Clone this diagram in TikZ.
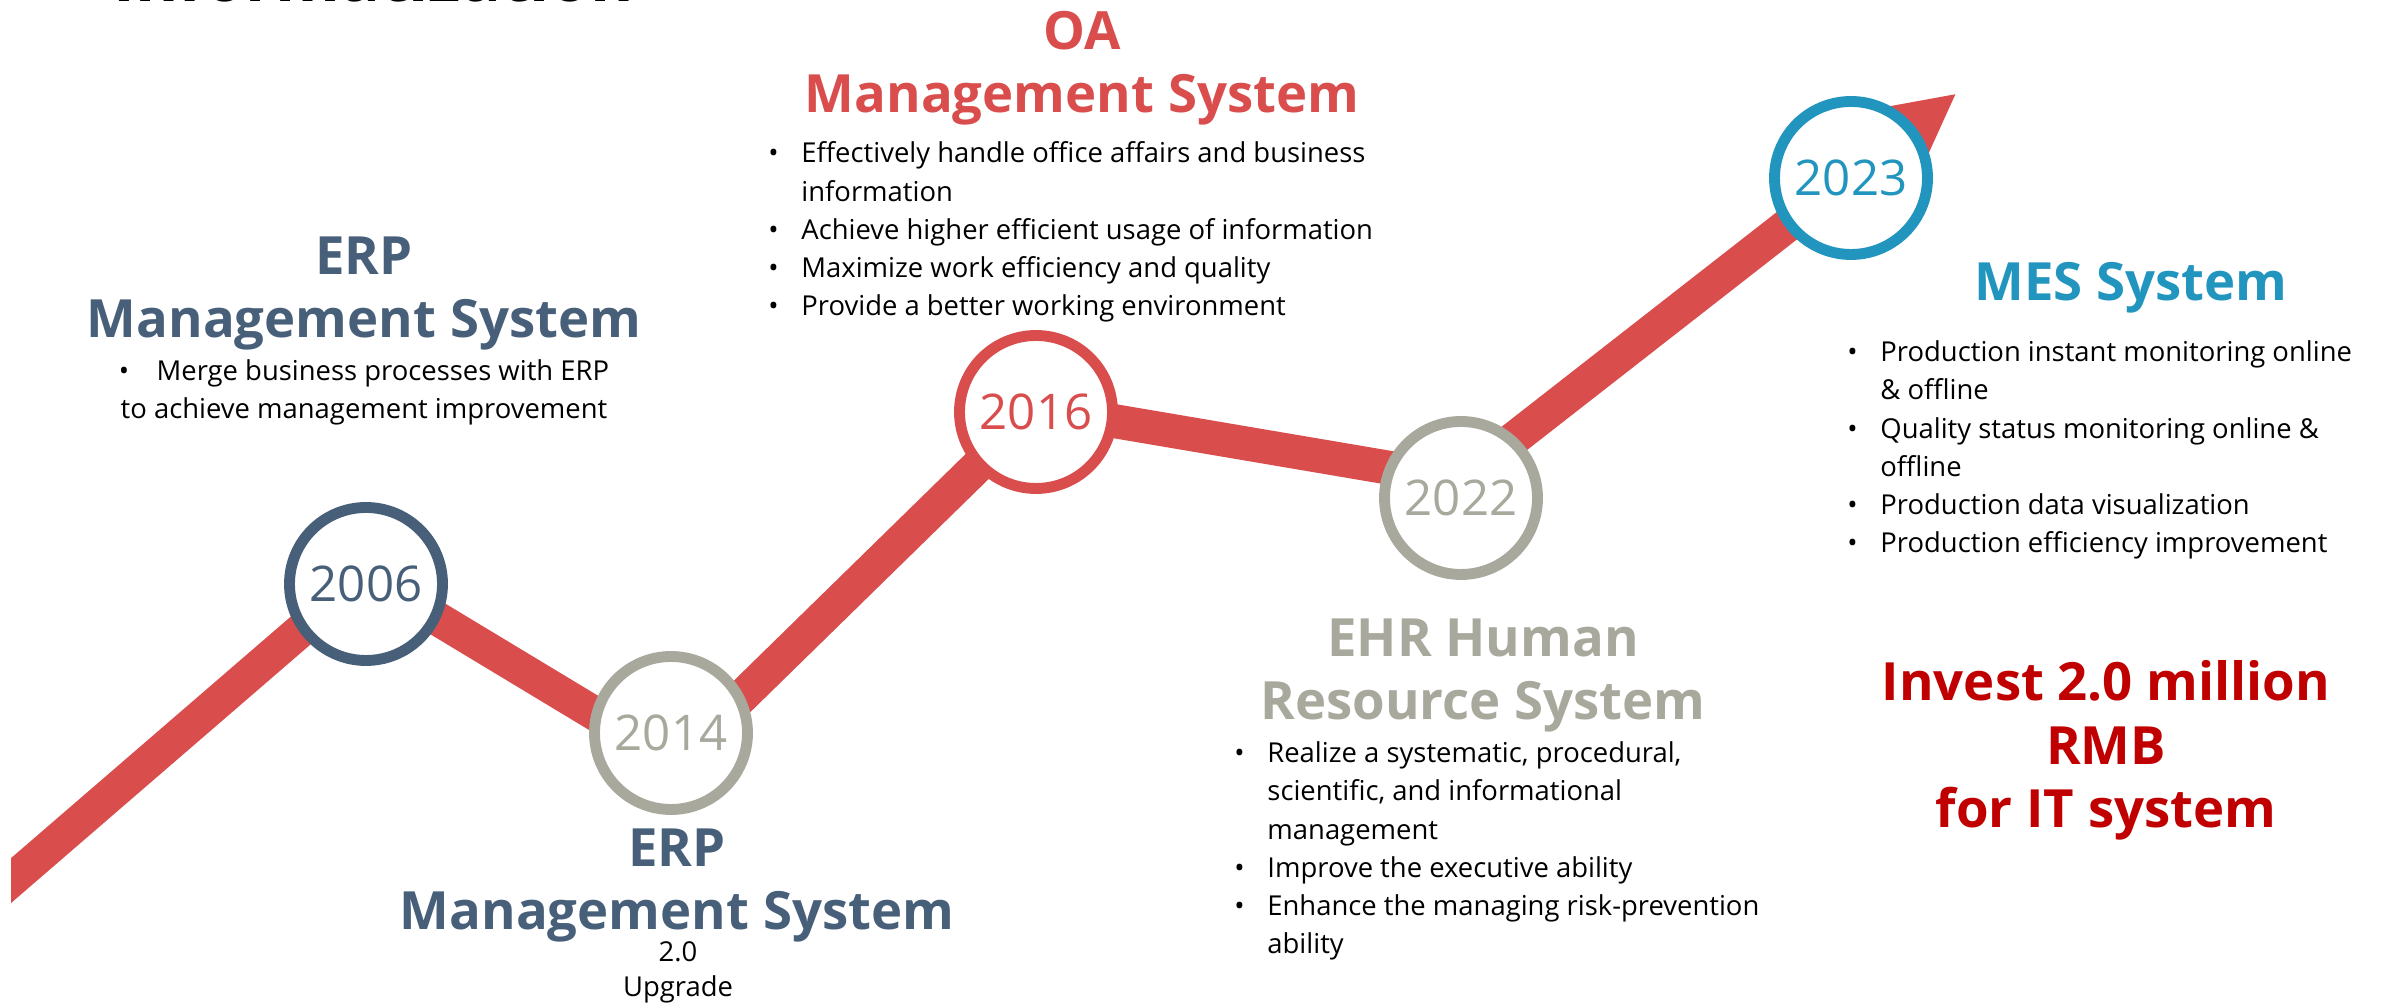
\documentclass[tikz,border=0pt]{standalone}
\usepackage{fontspec}
\setmainfont{Open Sans}
\usetikzlibrary{arrows.meta}

\definecolor{linered}{HTML}{D94D4D}
\definecolor{slate}{HTML}{485F7A}
\definecolor{stone}{HTML}{A8A99C}
\definecolor{sky}{HTML}{2295BF}
\definecolor{invest}{HTML}{C00000}

\newcommand{\bul}{\makebox[0.33cm][l]{\textbullet}}
\newcommand{\ind}{\hspace*{0.33cm}}

\tikzset{
    year/.style={circle,draw=#1,text=#1,fill=white,line width=3.1pt,minimum size=1.53cm,inner sep=0pt,font=\fontsize{14}{16}\selectfont},
    head/.style={font=\bfseries\fontsize{15}{18.2}\selectfont,align=center,anchor=base},
    body/.style={font=\fontsize{7.8}{10.9}\selectfont,align=left,anchor=base west}
}

\begin{document}
\begin{tikzpicture}
    \useasboundingbox (0,0) rectangle (23.87,10.08);
    % title, cut at the top edge
    \node (title) [font=\bfseries\fontsize{18.8}{20}\selectfont,anchor=base] at (3.74,10.06) {Informatization};

    % the red line
    \coordinate (p0) at (-0.30,0.92);
    \coordinate (p1) at (3.65,4.33);
    \coordinate (p2) at (6.75,2.46);
    \coordinate (p3) at (10.37,6.00);
    \coordinate (p4) at (14.61,5.28);
    \coordinate (tip) at (19.57,9.15);
    \begin{scope}
        \clip (0.11,0) rectangle (23.87,10.08);
        \draw [linered,line width=0.34cm,line join=round,-{Triangle[length=0.85cm,width=0.8cm]}]
            (p0) -- (p1) -- (p2) -- (p3) -- (p4) -- (tip);
    \end{scope}

    \node (c06) [year=slate] at (3.66,4.24) {2006};
    \node (c14) [year=stone] at (6.71,2.75) {2014};
    \node (c16) [year=linered] at (10.36,5.96) {2016};
    \node (c22) [year=stone] at (14.61,5.10) {2022};
    \node (c23) [year=sky] at (18.51,8.30) {2023};

    % ERP
    \node (erp) [head,slate] at (3.64,6.70) {ERP\\Management System};
    \node (erpb) [font=\fontsize{7.8}{10.9}\selectfont,align=center,anchor=base] at (3.64,5.89)
        {\textbullet\quad Merge business processes with ERP\\to achieve management improvement};

    % OA
    \node (oa) [head,linered] at (10.82,8.95) {OA\\Management System};
    \node (oab) [body] at (7.56,6.92) {\bul Effectively handle office affairs and business\\
        \ind information\\
        \bul Achieve higher efficient usage of information\\
        \bul Maximize work efficiency and quality\\
        \bul Provide a better working environment};

    % ERP 2.0
    \node (erp2) [head,slate] at (6.77,0.78) {ERP\\Management System};
    \node (erp2b) [font=\fontsize{7.8}{10}\selectfont,align=center,anchor=base] at (6.78,0.11) {2.0\\Upgrade};

    % EHR
    \node (ehr) [head,stone] at (14.83,2.88) {EHR Human\\Resource System};
    \node (ehrb) [body] at (12.22,0.54) {\bul Realize a systematic, procedural,\\
        \ind scientific, and informational\\
        \ind management\\
        \bul Improve the executive ability\\
        \bul Enhance the managing risk-prevention\\
        \ind ability};

    % MES
    \node (mes) [head,sky] at (21.31,7.07) {MES System};
    \node (mesb) [body] at (18.35,4.55) {\bul Production instant monitoring online\\
        \ind \& offline\\
        \bul Quality status monitoring online \&\\
        \ind offline\\
        \bul Production data visualization\\
        \bul Production efficiency improvement};

    \node (inv) [head,invest] at (21.06,1.80) {Invest 2.0 million\\RMB\\for IT system};
\end{tikzpicture}
\end{document}
